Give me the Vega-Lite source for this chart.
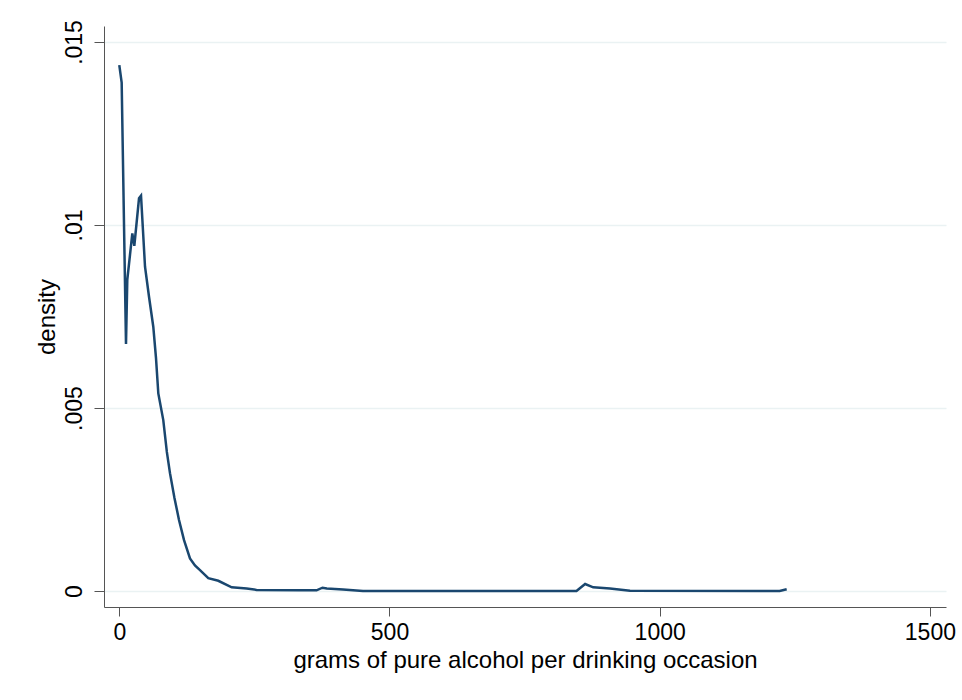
{
  "$schema": "https://vega.github.io/schema/vega-lite/v6.json",
  "width": 842,
  "height": 581,
  "autosize": {"type": "none"},
  "padding": {"left": 104, "top": 26, "right": 16, "bottom": 93},
  "background": "white",
  "config": {
    "view": {"stroke": null},
    "font": "Liberation Sans",
    "axis": {
      "labelFont": "Liberation Sans",
      "titleFont": "Liberation Sans",
      "labelColor": "black",
      "titleColor": "black",
      "titleFontWeight": "normal",
      "domainColor": "#555555",
      "tickColor": "#555555",
      "domainWidth": 1,
      "tickWidth": 1
    }
  },
  "data": {
    "values": [
      {"x": 0, "d": 0.01437},
      {"x": 4.4, "d": 0.01389},
      {"x": 12.4, "d": 0.00675},
      {"x": 14.8, "d": 0.0085},
      {"x": 24.1, "d": 0.00977},
      {"x": 27.8, "d": 0.00943},
      {"x": 36.5, "d": 0.01073},
      {"x": 40.2, "d": 0.0108},
      {"x": 47.6, "d": 0.00886},
      {"x": 55, "d": 0.00804},
      {"x": 62.9, "d": 0.00722},
      {"x": 67.9, "d": 0.00637},
      {"x": 72.2, "d": 0.0054},
      {"x": 81.4, "d": 0.00467},
      {"x": 88, "d": 0.0038},
      {"x": 93.8, "d": 0.00322},
      {"x": 102, "d": 0.00255},
      {"x": 110.5, "d": 0.00194},
      {"x": 119.8, "d": 0.00139},
      {"x": 130.8, "d": 0.00089},
      {"x": 140, "d": 0.0007},
      {"x": 149.3, "d": 0.00057},
      {"x": 164.7, "d": 0.00035},
      {"x": 183.2, "d": 0.00028},
      {"x": 208, "d": 0.0001},
      {"x": 235.7, "d": 0.00007},
      {"x": 254, "d": 0.00003},
      {"x": 334, "d": 0.00002},
      {"x": 365, "d": 0.00002},
      {"x": 376, "d": 0.00009},
      {"x": 384, "d": 0.00007},
      {"x": 414, "d": 0.00004},
      {"x": 451, "d": 0.0},
      {"x": 846, "d": 0.0},
      {"x": 862, "d": 0.00019},
      {"x": 877, "d": 0.0001},
      {"x": 908, "d": 0.00007},
      {"x": 945, "d": 0.00001},
      {"x": 1222, "d": 0.0},
      {"x": 1235, "d": 0.00005}
    ]
  },
  "mark": {"type": "line", "color": "#1a476f", "strokeWidth": 2.5, "clip": true},
  "encoding": {
    "x": {
      "field": "x",
      "type": "quantitative",
      "scale": {"domain": [-28.3, 1529.8], "nice": false, "zero": false},
      "axis": {
        "values": [0, 500, 1000, 1500],
        "format": "d",
        "grid": false,
        "tickSize": 9,
        "labelFontSize": 23,
        "labelPadding": 5,
        "title": "grams of pure alcohol per drinking occasion",
        "titleFontSize": 24,
        "titlePadding": 4
      }
    },
    "y": {
      "field": "d",
      "type": "quantitative",
      "scale": {"domain": [-0.000437, 0.015437], "nice": false, "zero": false},
      "axis": {
        "values": [0, 0.005, 0.01, 0.015],
        "labelExpr": "datum.value == 0 ? '0' : replace(format(datum.value, '.3~f'), '0.', '.')",
        "grid": true,
        "gridColor": "#eaf2f3",
        "gridWidth": 1.5,
        "tickSize": 10,
        "labelFontSize": 23,
        "labelAngle": -90,
        "labelAlign": "center",
        "labelBaseline": "bottom",
        "labelPadding": 8,
        "title": "density",
        "titleFontSize": 24,
        "titlePadding": 4
      }
    }
  }
}
